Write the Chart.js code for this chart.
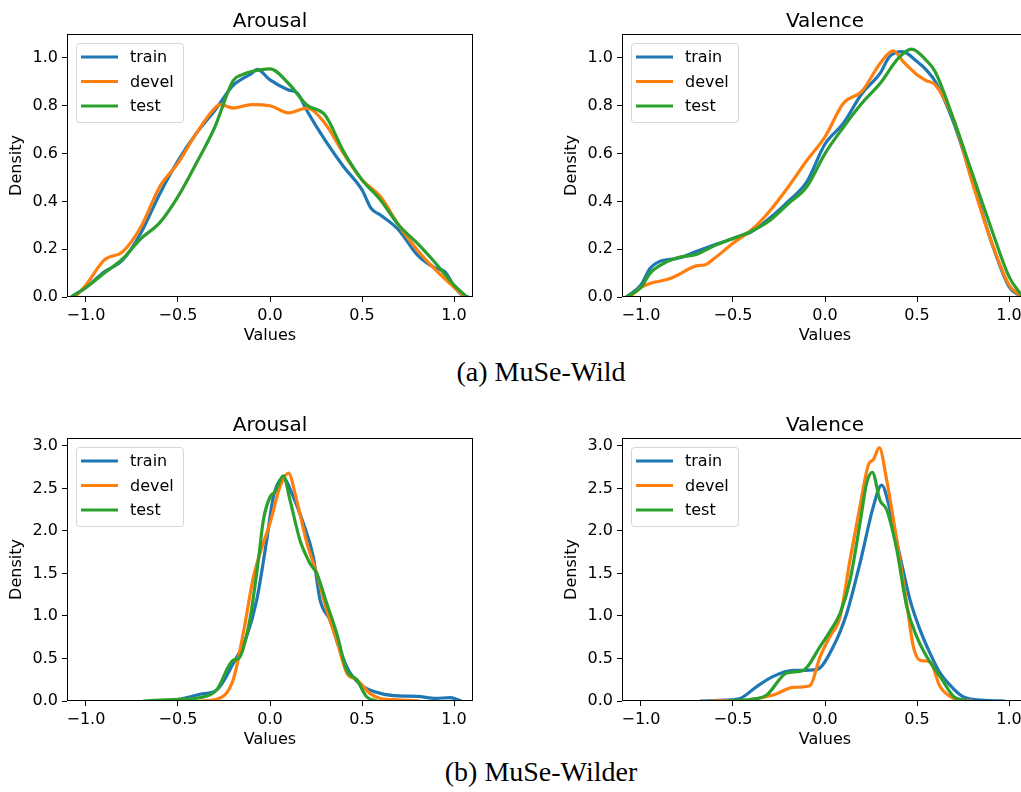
<!DOCTYPE html>
<html>
<head>
<meta charset="utf-8">
<script src="https://cdn.jsdelivr.net/npm/chart.js@4.4.0/dist/chart.umd.min.js"></script>
<style>
  html, body { margin: 0; padding: 0; background: #fff; overflow: hidden; }
  body { width: 1021px; height: 792px; position: relative; }
  canvas { position: absolute; }
  .caption {
    position: absolute; left: 0; width: 1082px; text-align: center;
    font-family: "Liberation Serif", serif; font-size: 28px; line-height: 28px; color: #000;
  }
</style>
</head>
<body>
<canvas id="wild-arousal" width="490" height="345" style="left:0;top:0"></canvas>
<canvas id="wild-valence" width="490" height="345" style="left:555px;top:0"></canvas>
<div class="caption" style="top:358px">(a) MuSe-Wild</div>
<canvas id="wilder-arousal" width="490" height="345" style="left:0;top:404px"></canvas>
<canvas id="wilder-valence" width="490" height="345" style="left:555px;top:404px"></canvas>
<div class="caption" style="top:758px">(b) MuSe-Wilder</div>
<script>
// dane (gestosc KDE)
const seriesNames = ['train', 'devel', 'test'];
const seriesColors = ['#1f77b4', '#ff7f0e', '#2ca02c'];
const xTicks = [-1.0, -0.5, 0.0, 0.5, 1.0];
const wildYTicks = [0.0, 0.2, 0.4, 0.6, 0.8, 1.0];
const wilderYTicks = [0.0, 0.5, 1.0, 1.5, 2.0, 2.5, 3.0];

// MuSe-Wild - Arousal
const wildArousalTrainX = [-1.08, -1.0, -0.9, -0.8, -0.7, -0.6, -0.5, -0.4, -0.3, -0.2, -0.1, -0.07, 0.0, 0.1, 0.15, 0.2, 0.3, 0.4, 0.5, 0.55, 0.6, 0.7, 0.8, 0.9, 0.95, 1.0, 1.05, 1.08];
const wildArousalTrainY = [0, 0.04, 0.105, 0.155, 0.27, 0.43, 0.57, 0.685, 0.78, 0.885, 0.935, 0.952, 0.908, 0.866, 0.852, 0.78, 0.655, 0.545, 0.448, 0.37, 0.343, 0.28, 0.176, 0.12, 0.106, 0.045, 0.005, 0];
const wildArousalDevelX = [-1.06, -1.0, -0.9, -0.8, -0.7, -0.6, -0.5, -0.4, -0.3, -0.27, -0.2, -0.1, 0.0, 0.1, 0.2, 0.3, 0.4, 0.5, 0.6, 0.7, 0.8, 0.9, 1.0, 1.06];
const wildArousalDevelY = [0, 0.05, 0.155, 0.19, 0.295, 0.46, 0.56, 0.685, 0.79, 0.805, 0.79, 0.805, 0.8, 0.77, 0.79, 0.725, 0.6, 0.49, 0.42, 0.3, 0.197, 0.113, 0.04, 0];
const wildArousalTestX = [-1.08, -1.0, -0.9, -0.8, -0.7, -0.6, -0.5, -0.4, -0.3, -0.2, -0.15, -0.1, 0.0, 0.1, 0.2, 0.3, 0.4, 0.5, 0.6, 0.7, 0.8, 0.9, 1.0, 1.07];
const wildArousalTestY = [0, 0.04, 0.1, 0.16, 0.245, 0.31, 0.42, 0.56, 0.71, 0.905, 0.93, 0.943, 0.954, 0.894, 0.803, 0.76, 0.608, 0.49, 0.406, 0.3, 0.225, 0.141, 0.05, 0];

// MuSe-Wild - Valence
const wildValenceTrainX = [-1.08, -1.0, -0.95, -0.9, -0.8, -0.7, -0.6, -0.5, -0.4, -0.3, -0.2, -0.1, 0.0, 0.1, 0.2, 0.3, 0.35, 0.42, 0.5, 0.55, 0.6, 0.7, 0.8, 0.9, 1.0, 1.06];
const wildValenceTrainY = [0, 0.05, 0.12, 0.148, 0.162, 0.19, 0.218, 0.245, 0.273, 0.33, 0.4, 0.48, 0.64, 0.727, 0.85, 0.936, 1.005, 1.026, 0.985, 0.95, 0.9, 0.727, 0.49, 0.24, 0.043, 0.005];
const wildValenceDevelX = [-1.06, -1.0, -0.95, -0.85, -0.8, -0.7, -0.65, -0.6, -0.5, -0.4, -0.3, -0.2, -0.1, 0.0, 0.1, 0.2, 0.3, 0.37, 0.43, 0.5, 0.55, 0.6, 0.7, 0.8, 0.9, 1.0, 1.06];
const wildValenceDevelY = [0, 0.04, 0.057, 0.075, 0.092, 0.13, 0.135, 0.162, 0.225, 0.28, 0.36, 0.46, 0.57, 0.67, 0.81, 0.86, 0.978, 1.03, 0.98, 0.93, 0.905, 0.887, 0.74, 0.48, 0.24, 0.05, 0.005];
const wildValenceTestX = [-1.08, -1.0, -0.95, -0.9, -0.8, -0.7, -0.6, -0.5, -0.4, -0.3, -0.2, -0.1, 0.0, 0.1, 0.2, 0.3, 0.4, 0.47, 0.55, 0.6, 0.7, 0.8, 0.9, 1.0, 1.07];
const wildValenceTestY = [0, 0.04, 0.1, 0.13, 0.165, 0.178, 0.215, 0.245, 0.275, 0.32, 0.39, 0.46, 0.6, 0.71, 0.81, 0.894, 1.0, 1.037, 0.99, 0.94, 0.74, 0.517, 0.294, 0.085, 0.005];

// MuSe-Wilder - Arousal
const wilderArousalTrainX = [-0.53, -0.45, -0.38, -0.29, -0.2, -0.127, -0.072, -0.018, 0.018, 0.072, 0.127, 0.181, 0.235, 0.272, 0.326, 0.38, 0.435, 0.507, 0.6, 0.7, 0.8, 0.9, 0.98, 1.04];
const wilderArousalTrainY = [0, 0.04, 0.08, 0.13, 0.44, 0.76, 1.19, 1.89, 2.4, 2.62, 2.4, 2.09, 1.7, 1.19, 0.95, 0.6, 0.33, 0.17, 0.09, 0.06, 0.055, 0.03, 0.04, 0];
const wilderArousalDevelX = [-0.38, -0.29, -0.2, -0.145, -0.09, -0.036, 0.0, 0.054, 0.1, 0.145, 0.2, 0.254, 0.308, 0.362, 0.417, 0.471, 0.543, 0.6, 0.7, 0.815];
const wilderArousalDevelY = [0, 0.02, 0.25, 0.8, 1.46, 1.86, 2.09, 2.52, 2.68, 2.36, 1.86, 1.5, 1.07, 0.72, 0.33, 0.25, 0.09, 0.03, 0.015, 0];
const wilderArousalTestX = [-0.69, -0.5, -0.38, -0.29, -0.2, -0.17, -0.11, -0.063, -0.036, 0.0, 0.027, 0.072, 0.109, 0.163, 0.217, 0.254, 0.308, 0.362, 0.417, 0.471, 0.525, 0.58];
const wilderArousalTestY = [0, 0.02, 0.04, 0.13, 0.48, 0.5, 0.95, 1.66, 2.13, 2.4, 2.46, 2.65, 2.36, 1.89, 1.62, 1.5, 1.15, 0.8, 0.36, 0.25, 0.05, 0];

// MuSe-Wilder - Valence
const wilderValenceTrainX = [-0.68, -0.55, -0.462, -0.371, -0.281, -0.172, -0.045, 0.045, 0.118, 0.19, 0.263, 0.308, 0.353, 0.408, 0.462, 0.516, 0.571, 0.625, 0.7, 0.75, 0.85, 0.98];
const wilderValenceTrainY = [0, 0.01, 0.03, 0.17, 0.29, 0.36, 0.37, 0.64, 1.03, 1.62, 2.29, 2.54, 2.25, 1.7, 1.19, 0.84, 0.56, 0.33, 0.14, 0.05, 0.01, 0];
const wilderValenceDevelX = [-0.625, -0.462, -0.281, -0.172, -0.082, -0.027, 0.027, 0.082, 0.136, 0.19, 0.236, 0.263, 0.295, 0.335, 0.39, 0.444, 0.48, 0.516, 0.571, 0.625, 0.7, 0.75, 0.8];
const wilderValenceDevelY = [0, 0.005, 0.07, 0.16, 0.18, 0.52, 0.76, 0.99, 1.66, 2.29, 2.78, 2.84, 2.98, 2.6, 1.89, 1.15, 0.64, 0.48, 0.46, 0.17, 0.03, 0.01, 0];
const wilderValenceTestX = [-0.53, -0.4, -0.317, -0.208, -0.118, -0.027, 0.027, 0.082, 0.136, 0.19, 0.226, 0.257, 0.299, 0.335, 0.39, 0.444, 0.498, 0.553, 0.625, 0.7, 0.75, 0.78];
const wilderValenceTestY = [0, 0.02, 0.07, 0.33, 0.36, 0.64, 0.82, 1.03, 1.42, 2.09, 2.56, 2.69, 2.36, 2.25, 1.78, 1.11, 0.76, 0.52, 0.29, 0.05, 0.01, 0];

Chart.defaults.font.family = '"DejaVu Sans", sans-serif';
Chart.defaults.color = '#000';

function fmt(v) {
    return (v < 0 ? '\u2212' : '') + Math.abs(v).toFixed(1);
}

// ramka, tytul, opisy osi i legenda w stylu matplotlib
const mplDecor = {
    id: 'mplDecor',
    afterDraw(chart, args, opts) {
        const ctx = chart.ctx;
        const a = chart.chartArea;
        ctx.save();
        ctx.strokeStyle = '#000';
        ctx.lineWidth = 1;
        ctx.strokeRect(Math.round(a.left) + 0.5, Math.round(a.top) + 0.5,
            Math.round(a.right - a.left) - 1, Math.round(a.bottom - a.top) - 1);

        ctx.fillStyle = '#000';
        ctx.textAlign = 'center';
        ctx.textBaseline = 'alphabetic';
        ctx.font = '20px "DejaVu Sans"';
        ctx.fillText(opts.title, (a.left + a.right) / 2, a.top - 7);
        ctx.font = '16px "DejaVu Sans"';
        ctx.fillText('Values', (a.left + a.right) / 2, a.bottom + 43);

        ctx.save();
        ctx.translate(17, (a.top + a.bottom) / 2);
        ctx.rotate(-Math.PI / 2);
        ctx.textBaseline = 'middle';
        ctx.fillText('Density', 0, 0);
        ctx.restore();

        // legenda
        const bx = a.left + 9, by = a.top + 9, bw = 107, bh = 79;
        ctx.beginPath();
        ctx.roundRect(bx + 0.5, by + 0.5, bw, bh, 3);
        ctx.fillStyle = 'rgba(255,255,255,0.8)';
        ctx.fill();
        ctx.strokeStyle = 'rgba(204,204,204,0.8)';
        ctx.lineWidth = 1;
        ctx.stroke();
        ctx.font = '16px "DejaVu Sans"';
        ctx.textAlign = 'left';
        ctx.textBaseline = 'middle';
        seriesNames.forEach((name, i) => {
            const ly = by + 14 + i * 24.5;
            ctx.beginPath();
            ctx.moveTo(bx + 5, ly);
            ctx.lineTo(bx + 42, ly);
            ctx.strokeStyle = seriesColors[i];
            ctx.lineWidth = 3.2;
            ctx.stroke();
            ctx.fillStyle = '#000';
            ctx.fillText(name, bx + 54, ly + 1);
        });
        ctx.restore();
    }
};

function makeSet(xs, ys, i) {
    return {
        label: seriesNames[i],
        data: xs.map((x, k) => ({ x: x, y: ys[k] })),
        borderColor: seriesColors[i],
        backgroundColor: seriesColors[i],
        borderWidth: 3.2,
        pointRadius: 0,
        cubicInterpolationMode: 'monotone',
        order: 2 - i
    };
}

function drawPanel(id, title, sets, yTicks, yMax) {
    const ctx = document.getElementById(id).getContext('2d');
    new Chart(ctx, {
        type: 'line',
        data: { datasets: sets.map((s, i) => makeSet(s[0], s[1], i)) },
        options: {
            responsive: false,
            animation: false,
            layout: { padding: { left: 0, right: 17, top: 34, bottom: 0 } },
            plugins: {
                legend: { display: false },
                tooltip: { enabled: false },
                mplDecor: { title: title }
            },
            scales: {
                x: {
                    type: 'linear',
                    min: -1.103,
                    max: 1.103,
                    afterBuildTicks: (scale) => { scale.ticks = xTicks.map(v => ({ value: v })); },
                    afterFit: (scale) => { scale.height = 48; },
                    ticks: { callback: fmt, autoSkip: false, maxRotation: 0, padding: 4, font: { size: 16 }, color: '#000' },
                    grid: { drawOnChartArea: false, drawTicks: true, tickLength: 5, color: '#000' },
                    border: { display: false }
                },
                y: {
                    min: 0,
                    max: yMax,
                    afterBuildTicks: (scale) => { scale.ticks = yTicks.map(v => ({ value: v })); },
                    afterFit: (scale) => { scale.width = 67; },
                    ticks: { callback: fmt, autoSkip: false, padding: 4, font: { size: 16 }, color: '#000' },
                    grid: { drawOnChartArea: false, drawTicks: true, tickLength: 5, color: '#000' },
                    border: { display: false }
                }
            }
        },
        plugins: [mplDecor]
    });
}

drawPanel('wild-arousal', 'Arousal', [
    [wildArousalTrainX, wildArousalTrainY],
    [wildArousalDevelX, wildArousalDevelY],
    [wildArousalTestX, wildArousalTestY]
], wildYTicks, 1.1);

drawPanel('wild-valence', 'Valence', [
    [wildValenceTrainX, wildValenceTrainY],
    [wildValenceDevelX, wildValenceDevelY],
    [wildValenceTestX, wildValenceTestY]
], wildYTicks, 1.1);

drawPanel('wilder-arousal', 'Arousal', [
    [wilderArousalTrainX, wilderArousalTrainY],
    [wilderArousalDevelX, wilderArousalDevelY],
    [wilderArousalTestX, wilderArousalTestY]
], wilderYTicks, 3.094);

drawPanel('wilder-valence', 'Valence', [
    [wilderValenceTrainX, wilderValenceTrainY],
    [wilderValenceDevelX, wilderValenceDevelY],
    [wilderValenceTestX, wilderValenceTestY]
], wilderYTicks, 3.094);
</script>
</body>
</html>
